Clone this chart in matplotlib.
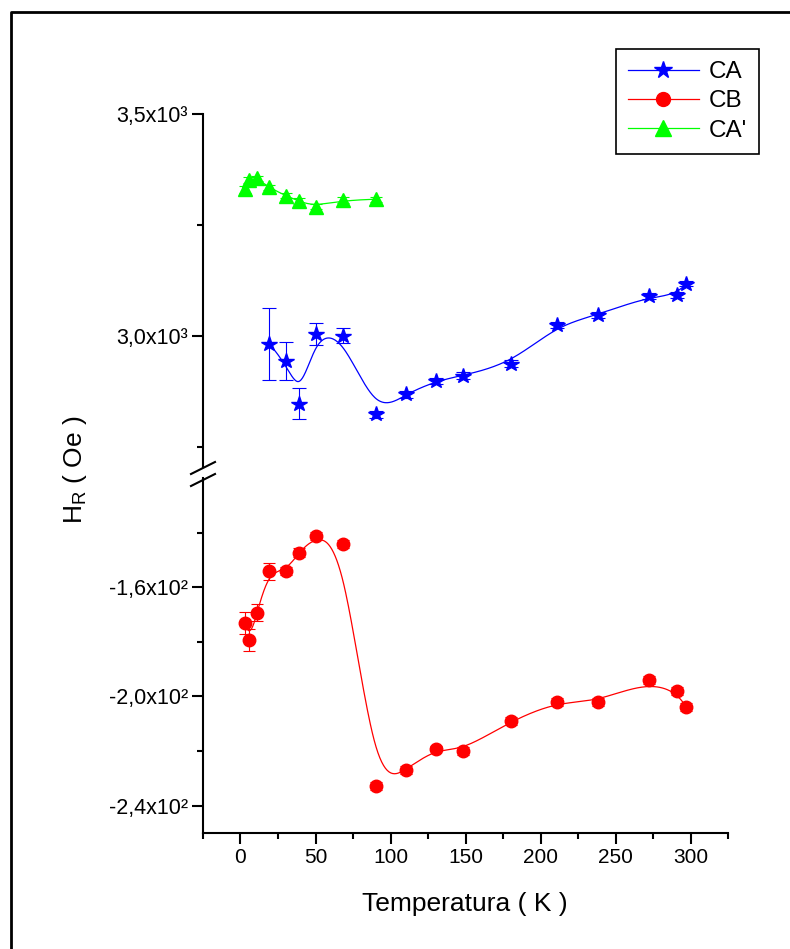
import numpy as np
import matplotlib
matplotlib.use('Agg')
import matplotlib.pyplot as plt
from matplotlib.lines import Line2D

plt.rcParams['font.family'] = ['Liberation Sans', 'DejaVu Sans']
plt.rcParams['mathtext.fontset'] = 'custom'
plt.rcParams['mathtext.rm'] = 'Liberation Sans'
plt.rcParams['mathtext.it'] = 'Liberation Sans:italic'

# temperatura (K)
temp_ca = [19, 30, 39, 50, 68, 90, 110, 130, 148, 180, 211, 238, 272, 291, 297]
temp_cb = [3, 6, 11, 19, 30, 39, 50, 68, 90, 110, 130, 148, 180, 211, 238, 272, 291, 297]
temp_ca2 = [3, 6, 11, 19, 30, 39, 50, 68, 90]

# H_R (Oe)
hr_ca = [2982, 2944, 2847, 3004, 3001, 2824, 2869, 2898, 2911, 2938, 3024, 3047, 3090, 3092, 3118]
err_ca = [80, 42, 35, 25, 16, 8, 8, 7, 7, 7, 7, 6, 6, 6, 6]
hr_cb = [-173.2, -179.2, -169.3, -154.2, -154.1, -147.3, -141.2, -144.3, -232.9,
         -227.0, -219.1, -219.9, -209.0, -202.0, -202.0, -194.1, -198.0, -203.9]
err_cb = [4, 4, 3, 3, 1.5, 1.5, 1.5, 1.5, 1.5, 1.5, 1, 1.5, 1.5, 1.5, 1.5, 1.5, 1.5, 1.5]
hr_ca2 = [3330, 3351, 3355, 3335, 3316, 3304, 3291, 3306, 3308]
err_ca2 = [8, 6, 6, 6, 6, 6, 6, 6, 6]

top_ticks = [3000, 3500]
top_labels = ['3,0x10³', '3,5x10³']
bot_ticks = [-240, -200, -160]
bot_labels = ['-2,4x10²', '-2,0x10²', '-1,6x10²']

W, H = 790, 949


def bspline(xs, ys, n=500, k=3):
    # clamped cubic B-spline with the data points as control points (Origin "B-Spline" line)
    pts = np.column_stack([xs, ys]).astype(float)
    m = len(pts)
    knots = np.concatenate([np.zeros(k), np.linspace(0, 1, m - k + 1), np.ones(k)])
    t = np.linspace(0, 1, n)
    t[-1] -= 1e-9
    N = ((knots[:-1] <= t[:, None]) & (t[:, None] < knots[1:])).astype(float)
    for d in range(1, k + 1):
        nn = len(knots) - 1 - d
        new = np.zeros((n, nn))
        for i in range(nn):
            a = knots[i + d] - knots[i]
            b = knots[i + d + 1] - knots[i + 1]
            if a > 0:
                new[:, i] += (t - knots[i]) / a * N[:, i]
            if b > 0:
                new[:, i] += (knots[i + d + 1] - t) / b * N[:, i + 1]
        N = new
    c = N @ pts
    return c[:, 0], c[:, 1]


def px(x, y):
    return x / W, 1 - y / H


fig = plt.figure(figsize=(W / 100, H / 100), dpi=100)
left, right = 203 / W, 728 / W
ax_top = fig.add_axes([left, 1 - 467 / H, right - left, (467 - 114) / H])
ax_bot = fig.add_axes([left, 1 - 833 / H, right - left, (833 - 478) / H])

for ax in (ax_top, ax_bot):
    ax.set_xlim(-25, 325)
    ax.spines['top'].set_visible(False)
    ax.spines['right'].set_visible(False)
    ax.spines['left'].set_linewidth(1.5)
    ax.spines['bottom'].set_linewidth(1.5)
    ax.tick_params(which='major', direction='out', length=8, width=1.5, labelsize=15, pad=3)
    ax.tick_params(which='minor', direction='out', length=4, width=1.5)
    ax.tick_params(axis='y', labelsize=15.5)

ax_top.spines['bottom'].set_visible(False)
ax_top.tick_params(axis='x', which='both', bottom=False, labelbottom=False)
ax_top.set_ylim(2705, 3500)
ax_top.set_yticks(top_ticks)
ax_top.set_yticklabels(top_labels)
ax_top.set_yticks([2750, 3250], minor=True)

ax_bot.set_ylim(-250, -120)
ax_bot.set_yticks(bot_ticks)
ax_bot.set_yticklabels(bot_labels)
ax_bot.set_yticks([-220, -180, -140], minor=True)
ax_bot.set_xticks([0, 50, 100, 150, 200, 250, 300])
ax_bot.set_xticks([-25, 25, 75, 125, 175, 225, 275, 325], minor=True)

# CA
ax_top.errorbar(temp_ca, hr_ca, yerr=err_ca, fmt='none', ecolor='#0000FF', elinewidth=0.8,
                capsize=5, capthick=0.8)
cx, cy = bspline(temp_ca, hr_ca)
ax_top.plot(cx, cy, color='#0000FF', lw=0.9)
ax_top.plot(temp_ca, hr_ca, ls='none', marker='*', ms=11.5, color='#0000FF')

# CA'
ax_top.errorbar(temp_ca2, hr_ca2, yerr=err_ca2, fmt='none', ecolor='#00FF00', elinewidth=0.8,
                capsize=4, capthick=0.8)
cx, cy = bspline(temp_ca2, hr_ca2)
ax_top.plot(cx, cy, color='#00FF00', lw=0.9)
ax_top.plot(temp_ca2, hr_ca2, ls='none', marker='^', ms=10, color='#00FF00')

# CB
ax_bot.errorbar(temp_cb, hr_cb, yerr=err_cb, fmt='none', ecolor='#FF0000', elinewidth=0.8,
                capsize=4.5, capthick=0.8)
cx, cy = bspline(temp_cb, hr_cb)
ax_bot.plot(cx, cy, color='#FF0000', lw=0.9)
ax_bot.plot(temp_cb, hr_cb, ls='none', marker='o', ms=9, color='#FF0000')

# axis break marks
for yc in (468, 480):
    x0, y0 = px(191, yc + 6)
    x1, y1 = px(215, yc - 6)
    fig.add_artist(Line2D([x0, x1], [y0, y1], color='black', lw=1.5))

# frame of the figure (left and top only)
xa, ya = px(11, H)
xb, yb = px(11, 12)
xc, yc_ = px(W, 12)
fig.add_artist(Line2D([xa, xb, xc], [ya, yb, yc_], color='black', lw=2))

fig.text(465 / W, 1 - 904 / H, 'Temperatura ( K )', ha='center', va='center', fontsize=19)
fig.text(75 / W, 1 - 470 / H, r'H$_{\mathrm{R}}$ ( Oe )', ha='center', va='center',
         rotation=90, fontsize=19)

handles = [
    Line2D([], [], color='#0000FF', lw=0.9, marker='*', ms=13),
    Line2D([], [], color='#FF0000', lw=0.9, marker='o', ms=10),
    Line2D([], [], color='#00FF00', lw=0.9, marker='^', ms=11),
]
leg = fig.legend(handles, ['CA', 'CB', "CA'"], loc='upper left',
                 bbox_to_anchor=px(616, 49), borderaxespad=0, fontsize=17.5,
                 handlelength=2.9, handletextpad=0.4, labelspacing=0.3,
                 borderpad=0.5, fancybox=False, framealpha=1, edgecolor='black')
leg.get_frame().set_linewidth(1.2)

fig.savefig('out.png', dpi=100)
